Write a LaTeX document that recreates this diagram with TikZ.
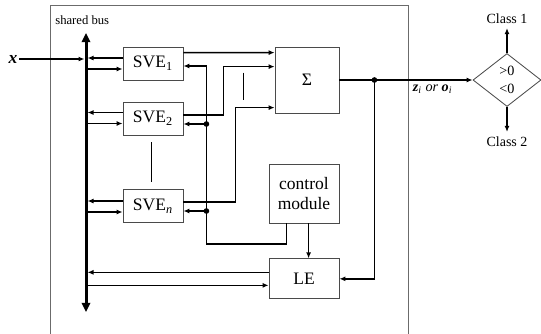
\documentclass[tikz,border=0pt]{standalone}
\usepackage{fontspec}
\setmainfont{Liberation Serif}
\usetikzlibrary{arrows.meta,positioning,calc,shapes.geometric}
\definecolor{edgegray}{HTML}{4A4A4A}
\definecolor{framegray}{HTML}{6B6B6B}
\tikzset{
  unit/.style={
    rectangle,
    draw=edgegray,
    line width=0.5pt,
    align=center,
    inner sep=1pt,
    font=\fontsize{10.5}{12.5}\selectfont
  },
  sve/.style={unit, minimum width=36pt, minimum height=19.8pt},
  decision/.style={
    diamond,
    draw=edgegray,
    line width=0.5pt,
    align=center,
    aspect=1.3,
    inner sep=0pt,
    minimum width=40.8pt,
    minimum height=31.8pt,
    font=\fontsize{8.5}{10.5}\selectfont
  },
  classlabel/.style={inner sep=2.5pt, font=\fontsize{8.4}{10}\selectfont},
  wire/.style={line width=1pt, draw=black},
  line/.style={wire, -{Latex[length=3.6pt,width=3pt]}},
  busline/.style={line width=1.8pt, {Triangle[length=5.5pt,width=5pt]}-{Triangle[length=5.5pt,width=5pt]}},
  frame/.style={draw=framegray, line width=0.5pt},
  ellip/.style={draw=black, line width=0.6pt}
}

\begin{document}
\begin{tikzpicture}[x=0.6pt, y=-0.6pt]
  \useasboundingbox (0,0) rectangle (541,333);
  \draw[frame] (50,5) rectangle (408,345);
  \node[anchor=west, inner sep=0pt, font=\fontsize{7.6}{9}\selectfont] (buslabel) at (55,20) {shared bus};

  % shared bus
  \coordinate (bustop) at (86,33);
  \coordinate (busbot) at (86,312);
  \draw[busline] (busbot) -- (bustop);
  \node[inner sep=1pt, font=\fontsize{10.5}{12}\selectfont\bfseries\itshape] (xin) at (13,59) {x};

  % blocks
  \node[sve] (sve1) at (153,63.5) {SVE\textsubscript{1}};
  \node[sve] (sve2) at (153,118.5) {SVE\textsubscript{2}};
  \node[sve] (sven) at (153,206) {SVE\textsubscript{\itshape n}};
  \node[unit, minimum width=38.4pt, minimum height=39.6pt] (sum) at (307,80) {Σ};
  \node[unit, minimum width=42pt, minimum height=35.4pt] (ctrl) at (304,193.5) {control\\module};
  \node[unit, minimum width=42pt, minimum height=24pt, below=21pt of ctrl] (le) {LE};
  \node[decision] (dec) at (507,80) {>0\\<0};
  \node[classlabel, above=15pt of dec.north] (cls1) {Class 1};
  \node[classlabel, below=15pt of dec.south] (cls2) {Class 2};

  % bus links
  \draw[line] (xin.east) -- ($(xin.east -| bustop)+(-1.5,0)$);
  \draw[line] ($(sve1.west)+(0,-5.5)$) -- ($(bustop |- sve1.west)+(1.5,-5.5)$);
  \draw[line] ($(bustop |- sve1.west)+(0,5.5)$) -- ($(sve1.west)+(0,5.5)$);
  \draw[line] ($(sve2.west)+(0,-6)$) -- ($(bustop |- sve2.west)+(1.5,-6)$);
  \draw[line] ($(bustop |- sve2.west)+(0,5)$) -- ($(sve2.west)+(0,5)$);
  \draw[line] ($(sven.west)+(0,-5)$) -- ($(bustop |- sven.west)+(1.5,-5)$);
  \draw[line] ($(bustop |- sven.west)+(0,6)$) -- ($(sven.west)+(0,6)$);
  \draw[line] ($(le.west)+(0,-6.5)$) -- ($(bustop |- le.west)+(1.5,-6.5)$);
  \draw[line] ($(bustop |- le.west)+(0,6.5)$) -- ($(le.west)+(0,6.5)$);

  % outputs to the sum
  \draw[line] ($(sve1.north east)+(0,6)$) -- ($(sum.north west)+(0,6)$);
  \draw[line] ($(sve2.east)+(0,-3.5)$) -- ++(40,0) |- ($(sum.north west)+(0,20)$);
  \draw[line] ($(sven.east)+(0,-4)$) -- ++(52,0) |- ($(sum.north west)+(0,61)$);
  \draw[ellip] ($(sve2.south)+(-2,7)$) -- ($(sven.north)+(-2,-7)$);
  \draw[ellip] ($(sum.north west)+(-31,26)$) -- ++(0,27);

  % control lines
  \coordinate (tap) at ($(sven.south east)+(23,21)$);
  \coordinate (in2) at ($(sve2.east)+(0,5.5)$);
  \coordinate (inn) at ($(sven.east)+(0,5)$);
  \draw[line] ($(ctrl.south west)+(18,0)$) |- (tap) |- ($(sve1.east)+(0,2.5)$);
  \draw[line] (tap |- in2) -- (in2);
  \draw[line] (tap |- inn) -- (inn);
  \fill (tap |- in2) circle[radius=1.7pt];
  \fill (tap |- inn) circle[radius=1.7pt];
  \draw[line] ($(ctrl.south west)+(40,0)$) -- ($(le.north west)+(40,0)$);

  % output and feedback
  \coordinate (fb) at ($(sum.east)+(35,0)$);
  \draw[line] (sum.east) -- node[pos=0.7, below=1.5pt, inner sep=1pt, font=\fontsize{8.5}{10}\selectfont] (zlabel)
    {{\bfseries\itshape z}\textsubscript{\itshape i} \textit{or} {\bfseries\itshape o}\textsubscript{\itshape i}} (dec.west);
  \draw[line] (fb) |- (le.east);
  \fill (fb) circle[radius=1.7pt];
  \draw[line] (dec.north) -- (cls1.south);
  \draw[line] (dec.south) -- (cls2.north);
\end{tikzpicture}
\end{document}
